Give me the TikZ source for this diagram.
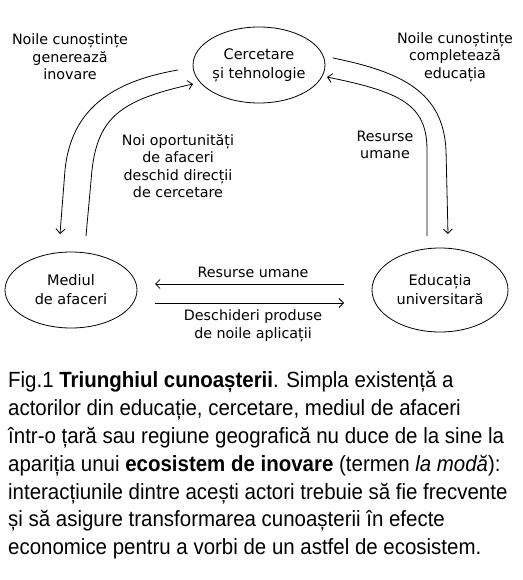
\documentclass[tikz,border=0pt]{standalone}
\usepackage{fontspec}
\setmainfont{DejaVu Sans}
\newfontfamily\diagfont{DejaVu Sans}
\newfontfamily\capfont[FakeStretch=0.93]{Liberation Sans}
\usetikzlibrary{arrows.meta,shapes.geometric}
\begin{document}
\begin{tikzpicture}[x=1pt,y=-1pt,
  actor/.style={draw,ellipse,line width=0.8pt,inner sep=0pt,font=\diagfont\fontsize{14.5}{19}\selectfont,align=center},
  lbl/.style={font=\diagfont\fontsize{14.3}{17.5}\selectfont,align=center,inner sep=0pt},
  flow/.style={line width=0.8pt,-{Straight Barb[length=4.5pt,width=9pt,line width=0.8pt]}},
  plain/.style={line width=0.8pt}]
\useasboundingbox (0,0) rectangle (522,580);
\fill[white] (0,0) rectangle (522,580);
% actors
\node[actor,minimum width=132pt,minimum height=76pt] (cer) at (259,65) {Cercetare\\și tehnologie};
\node[actor,minimum width=132pt,minimum height=76pt] (med) at (71,290) {Mediul\\de afaceri};
\node[actor,minimum width=136pt,minimum height=84pt] (edu) at (440,290) {Educația\\universitară};
% free ends
\coordinate (a1) at (178,70);
\coordinate (a2) at (60,234);
\coordinate (b1) at (86,236);
\coordinate (b2) at (193,84);
\coordinate (c1) at (333,58);
\coordinate (c2) at (448,234);
\coordinate (d1) at (427,236);
\coordinate (d2) at (327,77);
\coordinate (e1) at (344,284);
\coordinate (e2) at (155,284);
\coordinate (f1) at (155,303);
\coordinate (f2) at (344,303);
% connectors
\draw[flow] (a1) .. controls (108,82) and (71,112) .. (65,170) -- (a2);
\draw[flow] (b1) -- (92,170) .. controls (98,118) and (120,100) .. (b2);
\draw[flow] (c1) .. controls (402,72) and (443,92) .. (446,150) -- (c2);
\draw[flow] (d1) -- (427,150) .. controls (427,104) and (400,92) .. (d2);
\draw[flow] (e1) -- (e2);
\draw[flow] (f1) -- (f2);
% labels
\node[lbl] (l1) at (70,57) {Noile cunoștințe\\generează\\inovare};
\node[lbl] (l2) at (455,57) {Noile cunoștințe\\completează\\educația};
\node[lbl] (l3) at (178,166) {Noi oportunități\\de afaceri\\deschid direcții\\de cercetare};
\node[lbl] (l4) at (385,145) {Resurse\\umane};
\node[lbl] (l5) at (253,272) {Resurse umane};
\node[lbl] (l6) at (253,326) {Deschideri produse\\de noile aplicații};
% caption
\node[anchor=north west,inner sep=0pt,align=left,font=\capfont\fontsize{22}{27.9}\selectfont] (cap) at (8,371)
{Fig.1 \textbf{Triunghiul cunoașterii}. Simpla existență a\\
actorilor din educație, cercetare, mediul de afaceri\\
într-o țară sau regiune geografică nu duce de la sine la\\
apariția unui \textbf{ecosistem de inovare} (termen \textit{la modă}):\\
interacțiunile dintre acești actori trebuie să fie frecvente\\
și să asigure transformarea cunoașterii în efecte\\
economice pentru a vorbi de un astfel de ecosistem.};
\end{tikzpicture}
\end{document}
